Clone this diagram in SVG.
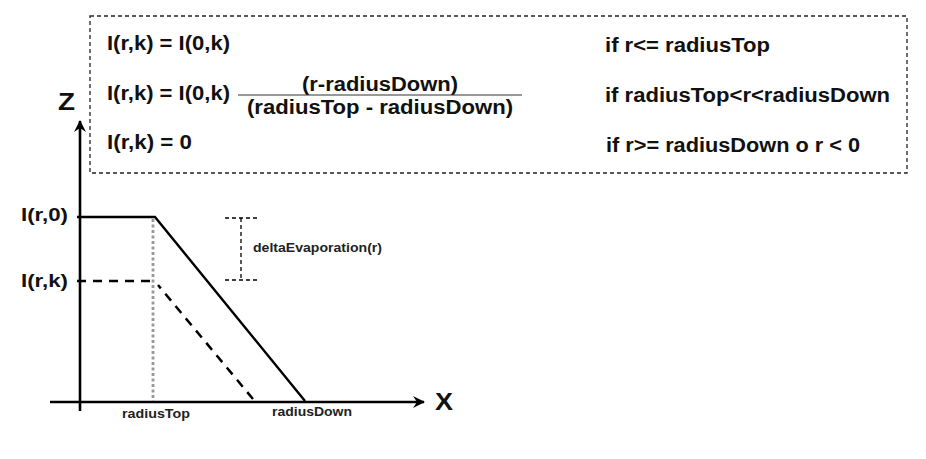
<svg xmlns="http://www.w3.org/2000/svg" width="926" height="459" viewBox="0 0 926 459">
<style>
text{font-family:"Liberation Sans",Arial,Helvetica,sans-serif;font-weight:bold;fill:#111}
.eq{font-size:20px}
.lab{font-size:18px}
.ax{font-size:23px}
.sm{font-size:13px;fill:#222}
.box{fill:none;stroke:#222;stroke-width:1.3;stroke-dasharray:4 3}
.axis{stroke:#000;stroke-width:2.6;fill:none}
.solid{stroke:#000;stroke-width:2.4;fill:none}
.dash{stroke:#000;stroke-width:2.5;fill:none;stroke-dasharray:9 7}
.dot{stroke:#999;stroke-width:2.8;fill:none;stroke-dasharray:3 2.5}
.br{stroke:#000;stroke-width:1.3;fill:none;stroke-dasharray:4 3}
</style>
<defs>
<marker id="ah" viewBox="0 0 12 12" refX="11" refY="6" markerWidth="12" markerHeight="12" markerUnits="userSpaceOnUse" orient="auto">
<path d="M0,0 L12,6 L0,12 L4,6 Z" fill="#000"/>
</marker>
</defs>
<rect width="926" height="459" fill="#fff"/>
<g id="formula-box">
<rect class="box" x="90" y="16" width="817" height="157"/>
<text class="eq" x="107" y="50" textLength="123" lengthAdjust="spacingAndGlyphs">I(r,k) = I(0,k)</text>
<text class="eq" x="107" y="100" textLength="123" lengthAdjust="spacingAndGlyphs">I(r,k) = I(0,k)</text>
<text class="eq" x="302" y="91" textLength="156" lengthAdjust="spacingAndGlyphs">(r-radiusDown)</text>
<line x1="238" y1="95" x2="522" y2="95" stroke="#333" stroke-width="1.2"/>
<text class="eq" x="247" y="114" textLength="266" lengthAdjust="spacingAndGlyphs">(radiusTop - radiusDown)</text>
<text class="eq" x="107" y="149" textLength="85" lengthAdjust="spacingAndGlyphs">I(r,k) = 0</text>
<text class="eq" x="605" y="52" textLength="165" lengthAdjust="spacingAndGlyphs">if r&lt;= radiusTop</text>
<text class="eq" x="605" y="102" textLength="285" lengthAdjust="spacingAndGlyphs">if radiusTop&lt;r&lt;radiusDown</text>
<text class="eq" x="606" y="152" textLength="254" lengthAdjust="spacingAndGlyphs">if r&gt;= radiusDown o r &lt; 0</text>
</g>
<g id="connectors">
<line id="z-axis" class="axis" x1="80" y1="411" x2="80" y2="121" marker-end="url(#ah)"/>
<line id="x-axis" class="axis" x1="50" y1="402" x2="424" y2="402" marker-end="url(#ah)"/>
<line class="dot" x1="153" y1="219" x2="153" y2="401"/>
<polyline class="solid" points="77,217 155,217 305,401"/>
<line class="dash" x1="77" y1="281" x2="153" y2="281"/>
<line class="dash" x1="253" y1="399" x2="158" y2="285"/>
<line class="br" x1="225" y1="218" x2="257" y2="218"/>
<line class="br" x1="241" y1="218" x2="241" y2="280"/>
<line class="br" x1="225" y1="280" x2="257" y2="280"/>
</g>
<g id="labels">
<text class="ax" x="58" y="110" textLength="17" lengthAdjust="spacingAndGlyphs">Z</text>
<text class="ax" x="435" y="410" textLength="18" lengthAdjust="spacingAndGlyphs">X</text>
<text class="lab" x="21" y="221" textLength="47" lengthAdjust="spacingAndGlyphs">I(r,0)</text>
<text class="lab" x="21" y="287" textLength="47" lengthAdjust="spacingAndGlyphs">I(r,k)</text>
<text class="sm" x="253" y="252" textLength="129" lengthAdjust="spacingAndGlyphs">deltaEvaporation(r)</text>
<text class="sm" x="122" y="418" textLength="68" lengthAdjust="spacingAndGlyphs">radiusTop</text>
<text class="sm" x="272" y="416" textLength="80" lengthAdjust="spacingAndGlyphs">radiusDown</text>
</g>
</svg>
